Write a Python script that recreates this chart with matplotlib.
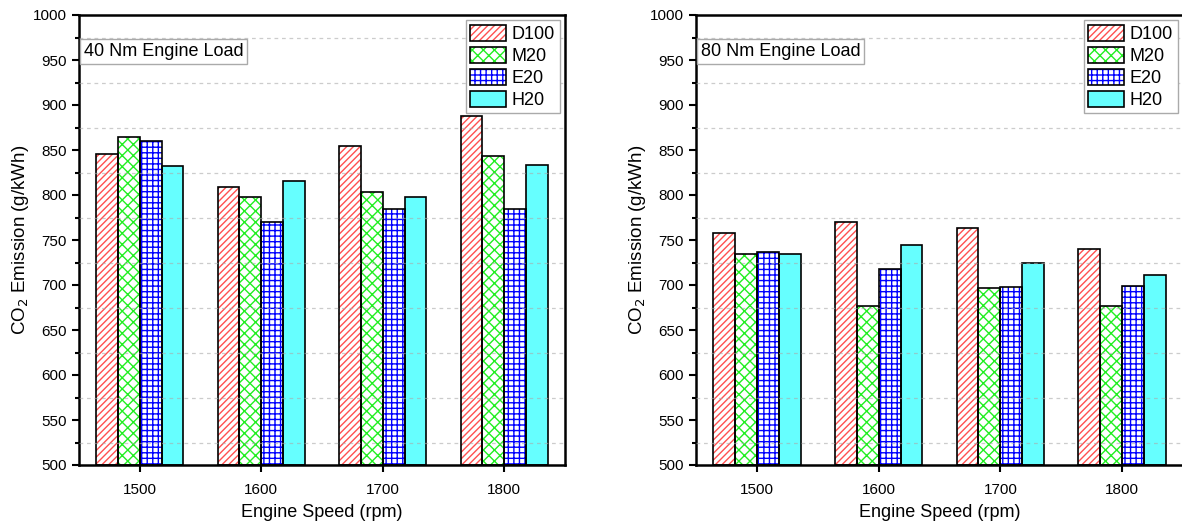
import matplotlib
matplotlib.use("Agg")
import matplotlib.pyplot as plt
from matplotlib.patches import Patch
from matplotlib.legend_handler import HandlerTuple
from matplotlib.ticker import MultipleLocator
import numpy as np

plt.rcParams['font.family'] = ['Liberation Sans', 'DejaVu Sans']
plt.rcParams['hatch.linewidth'] = 1.0

speeds = [1500, 1600, 1700, 1800]
fuels = ['D100', 'M20', 'E20', 'H20']

load40_D100 = [846, 809, 855, 888]
load40_M20 = [864, 798, 803, 843]
load40_E20 = [860, 770, 784, 785]
load40_H20 = [832, 816, 798, 833]

load80_D100 = [758, 770, 763, 740]
load80_M20 = [735, 677, 697, 677]
load80_E20 = [737, 718, 698, 699]
load80_H20 = [734, 744, 724, 711]

panel_titles = ['40 Nm Engine Load', '80 Nm Engine Load']

styles = [
    dict(fc='white', hc='#FF5050', hatch='/////'),
    dict(fc='white', hc='#22EE22', hatch='xxx'),
    dict(fc='white', hc='#0000FF', hatch='+++'),
    dict(fc='#66FFFF', hc='#66FFFF', hatch=None),
]

W, H = 1182, 528
fig = plt.figure(figsize=(W / 100, H / 100), dpi=100)
ax1 = fig.add_axes([79 / W, (H - 465) / H, 486 / W, 450 / H])
ax2 = fig.add_axes([696 / W, (H - 465) / H, 487 / W, 450 / H])

data = [[load40_D100, load40_M20, load40_E20, load40_H20],
        [load80_D100, load80_M20, load80_E20, load80_H20]]

bw = 18
offsets = [-27, -9, 9, 27]
x = np.array(speeds, dtype=float)

for ax, series, title in zip([ax1, ax2], data, panel_titles):
    handles = []
    for vals, off, st, name in zip(series, offsets, styles, fuels):
        if st['hatch']:
            ax.bar(x + off, np.array(vals) - 500, bw, bottom=500, color=st['fc'],
                   edgecolor=st['hc'], hatch=st['hatch'], linewidth=0, zorder=1)
        else:
            ax.bar(x + off, np.array(vals) - 500, bw, bottom=500, color=st['fc'],
                   linewidth=0, zorder=1)
        ax.bar(x + off, np.array(vals) - 500, bw, bottom=500, facecolor='none',
               edgecolor='black', linewidth=1.2, zorder=1.1)
        p1 = Patch(facecolor=st['fc'], edgecolor=st['hc'], hatch=st['hatch'], linewidth=0)
        p2 = Patch(facecolor='none', edgecolor='black', linewidth=1.2)
        handles.append((p1, p2))
    ax.set_xlim(1450, 1850)
    ax.set_ylim(500, 1000)
    ax.set_xticks(speeds)
    ax.set_xticklabels([str(s) for s in speeds])
    ax.yaxis.set_major_locator(MultipleLocator(50))
    ax.yaxis.set_minor_locator(MultipleLocator(25))
    ax.tick_params(axis='both', which='major', direction='out', length=5, width=1.5,
                   labelsize=11, pad=4)
    ax.tick_params(axis='y', which='minor', direction='out', length=3, width=1.5)
    ax.tick_params(axis='x', which='major', pad=8)
    for sp in ax.spines.values():
        sp.set_linewidth(1.8)
    ax.set_axisbelow(False)
    ax.grid(False, which='major')
    ax.grid(True, which='minor', axis='y', linestyle=(0, (3, 3)), color='#AAAAAA',
            linewidth=0.9, alpha=0.6)
    ax.set_xlabel('Engine Speed (rpm)', fontsize=13, labelpad=5)
    ax.set_ylabel('CO$_2$ Emission (g/kWh)', fontsize=13.5, labelpad=1)
    ax.text(0.01, 0.918, title, transform=ax.transAxes, fontsize=13,
            va='center', ha='left',
            bbox=dict(boxstyle='square,pad=0.22', fc='white', ec='#AAAAAA', lw=1))
    leg = ax.legend(handles, fuels, handler_map={tuple: HandlerTuple(ndivide=1, pad=0)},
                    loc='upper right', fontsize=13, frameon=True, fancybox=False,
                    edgecolor='#AAAAAA', framealpha=1, handlelength=2.0,
                    handleheight=1.0, borderpad=0.25, labelspacing=0.2,
                    handletextpad=0.3, borderaxespad=0.3)
    leg.get_frame().set_linewidth(1)

fig.savefig('out.png', dpi=100)
